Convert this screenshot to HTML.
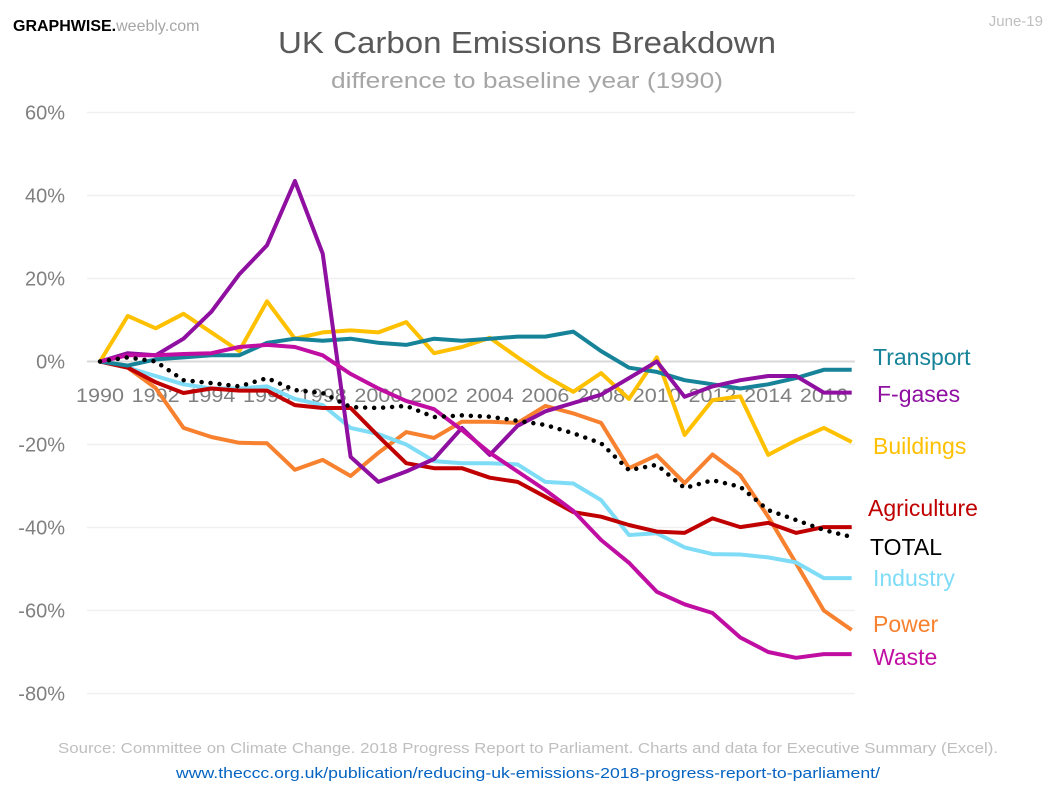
<!DOCTYPE html>
<html><head><meta charset="utf-8"><style>
html,body{margin:0;padding:0;background:#fff;}
svg{display:block;font-family:"Liberation Sans",sans-serif;}
</style></head><body>
<svg id="chart" width="1056" height="793" viewBox="0 0 1056 793" xmlns="http://www.w3.org/2000/svg">
<text x="13" y="31" font-size="16"><tspan font-weight="bold" fill="#000">GRAPHWISE.</tspan><tspan fill="#a6a6a6">weebly.com</tspan></text>
<text x="1043" y="26" font-size="15" fill="#bfbfbf" text-anchor="end">June-19</text>
<text x="527" y="53" font-size="31" fill="#595959" text-anchor="middle" textLength="498" lengthAdjust="spacingAndGlyphs">UK Carbon Emissions Breakdown</text>
<text x="527" y="88" font-size="22" fill="#a6a6a6" text-anchor="middle" textLength="392" lengthAdjust="spacingAndGlyphs">difference to baseline year (1990)</text>
<g id="grid"></g><g id="yticks"></g><g id="xticks"></g><g id="series"></g><g id="labels"></g>
<text x="528" y="753" font-size="15" fill="#bfbfbf" text-anchor="middle" textLength="940" lengthAdjust="spacingAndGlyphs">Source: Committee on Climate Change. 2018 Progress Report to Parliament. Charts and data for Executive Summary (Excel).</text>
<text x="528" y="778" font-size="15" fill="#0563c1" text-anchor="middle" textLength="704" lengthAdjust="spacingAndGlyphs">www.theccc.org.uk/publication/reducing-uk-emissions-2018-progress-report-to-parliament/</text>
</svg>
<script>
const years = [1990,1991,1992,1993,1994,1995,1996,1997,1998,1999,2000,2001,2002,2003,2004,2005,2006,2007,2008,2009,2010,2011,2012,2013,2014,2015,2016,2017];
const yTicks = [60,40,20,0,-20,-40,-60,-80];
const xTickYears = [1990,1992,1994,1996,1998,2000,2002,2004,2006,2008,2010,2012,2014,2016];
const transport = [0,-1,0.5,1,1.5,1.5,4.5,5.5,5,5.5,4.5,4,5.5,5,5.5,6,6,7.2,2.5,-1.5,-2.5,-4.5,-5.5,-6.5,-5.5,-4,-2,-2];
const fgases = [0,2,1.5,5.5,12,21,28,43.5,26,-23,-29,-26.5,-23.5,-16,-22.5,-15.5,-12,-10,-8,-4,0,-8.5,-6,-4.5,-3.5,-3.5,-7.5,-7.5];
const buildings = [0,11,8,11.5,7,2.5,14.5,5.5,7,7.5,7,9.5,2,3.5,5.7,1,-3.5,-7.3,-2.8,-9,1,-17.7,-9.3,-8.4,-22.5,-19,-16,-19.4];
const agriculture = [0,-1.5,-5,-7.6,-6.5,-7,-7,-10.5,-11.2,-11.2,-18,-24.5,-25.7,-25.7,-28,-29,-32.6,-36.3,-37.4,-39.4,-41,-41.3,-37.8,-39.9,-38.9,-41.3,-39.9,-39.9];
const total = [0,1,0,-4.5,-5.2,-6,-4,-6.9,-7.6,-11,-11.2,-10.7,-13.4,-13,-13.3,-14.3,-15.3,-17.3,-19.7,-26.2,-24.9,-30.5,-28.6,-30.2,-35.8,-38.2,-40.6,-42.3];
const industry = [0,-1.5,-3.5,-5.5,-6.5,-6.5,-6,-9,-10.5,-16,-17.5,-20,-24,-24.5,-24.5,-24.8,-29,-29.4,-33.4,-41.8,-41.4,-44.8,-46.4,-46.5,-47.2,-48.4,-52.2,-52.2];
const power = [0,-1.5,-6.4,-16,-18.2,-19.6,-19.7,-26.1,-23.7,-27.6,-22,-17,-18.4,-14.5,-14.5,-14.8,-10.7,-12.5,-14.8,-25.7,-22.6,-29.3,-22.4,-27.4,-37.4,-48.6,-60,-64.7];
const waste = [0,1.5,1.5,1.8,2,3.5,4,3.5,1.5,-3,-6.5,-9.5,-11.5,-16.5,-22,-26.5,-31,-36,-43,-48.5,-55.5,-58.5,-60.6,-66.5,-70,-71.4,-70.5,-70.5];
const seriesNames = ["Transport","F-gases","Buildings","Agriculture","TOTAL","Industry","Power","Waste"];
const labelY = [357,394,446,508,547,578,624,657];

const NS="http://www.w3.org/2000/svg";
const x = yr => 100 + (yr-1990)*27.84;
const y = v => 361.5 - v*4.15;
function mk(tag, parent){const e=document.createElementNS(NS,tag);parent.appendChild(e);return e;}
const grid=document.getElementById('grid'), yt=document.getElementById('yticks'), xt=document.getElementById('xticks'), sg=document.getElementById('series'), lg=document.getElementById('labels');
yTicks.forEach(t=>{
  const l=mk('line',grid);
  
  
  l.setAttribute('x1',87);l.setAttribute('x2',855);l.setAttribute('y1',y(t));l.setAttribute('y2',y(t));
  l.setAttribute('stroke',t===0?'#d9d9d9':'#f0f0f0');l.setAttribute('stroke-width',t===0?2:1.5);
  const tx=mk('text',yt);
  
  
  tx.setAttribute('x',65);tx.setAttribute('y',y(t)+7);tx.setAttribute('text-anchor','end');
  tx.setAttribute('font-size','20');tx.setAttribute('fill','#808080');
  tx.textContent=t+'%';
});
xTickYears.forEach(yr=>{
  const tx=mk('text',xt);
  
  
  tx.setAttribute('x',x(yr));tx.setAttribute('y',402);tx.setAttribute('text-anchor','middle');
  tx.setAttribute('font-size','19');tx.setAttribute('fill','#808080');
  tx.setAttribute('textLength','48');tx.setAttribute('lengthAdjust','spacingAndGlyphs');
  tx.textContent=yr;
});
const data=[transport,fgases,buildings,agriculture,total,industry,power,waste];
const colors=["#168399","#8e0fa0","#ffc000","#c00000","#000000","#7fdcf7","#f7812e","#c00ea3"];
const lblColors=["#168399","#8e0fa0","#ffc000","#c00000","#000000","#7fdcf7","#f7812e","#c00ea3"];
const order=[6,5,3,2,0,1,7,4];
order.forEach(i=>{
  const p=mk('path',sg);
  
  
  p.setAttribute('d',data[i].map((v,k)=>(k?'L':'M')+x(years[k]).toFixed(1)+' '+y(v).toFixed(1)).join(''));
  p.setAttribute('fill','none');p.setAttribute('stroke',colors[i]);
  p.setAttribute('stroke-linejoin','round');
  if(i===4){p.setAttribute('stroke-width','4.5');p.setAttribute('stroke-dasharray','0 9');p.setAttribute('stroke-linecap','round');}
  else p.setAttribute('stroke-width','4');
});
seriesNames.forEach((n,i)=>{
  const tx=mk('text',lg);
  
  
  tx.setAttribute('x',i===3?868:(i===4?870:(i===1?877:873)));tx.setAttribute('y',labelY[i]+8);
  tx.setAttribute('font-size','23');tx.setAttribute('fill',lblColors[i]);
  tx.textContent=n;
});
</script>
</body></html>
